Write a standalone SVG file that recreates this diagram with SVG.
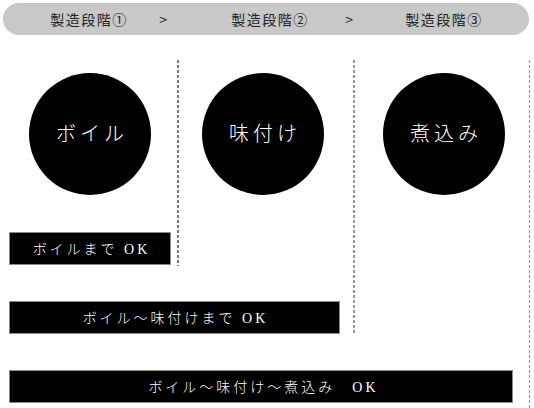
<svg xmlns="http://www.w3.org/2000/svg" width="534" height="408" viewBox="0 0 534 408">
<style>
.head{font-family:"Noto Sans CJK JP","Liberation Sans",sans-serif;font-size:14px;fill:#222;letter-spacing:1.5px;text-anchor:middle}
.circ{fill:#000}
.ct{font-family:"Noto Sans CJK JP","Liberation Serif",serif;font-size:20px;fill:#fff;letter-spacing:4px;text-anchor:middle;font-weight:300}
.bar{fill:#000;stroke:#8a8a8a;stroke-width:1}
.bt{font-family:"Liberation Serif","Noto Sans CJK JP",serif;font-size:14px;fill:#fff;letter-spacing:3px;text-anchor:middle;font-weight:300}
.dash{fill:none;stroke-width:1.2;stroke-dasharray:3 2}
</style>
<rect x="3" y="3" width="526" height="32" rx="16" ry="16" fill="#c8c8c8"/>
<g id="header">
<text class="head" x="89" y="25">製造段階①</text>
<text class="head" x="164" y="25">&gt;</text>
<text class="head" x="270" y="25">製造段階②</text>
<text class="head" x="350" y="25">&gt;</text>
<text class="head" x="444" y="25">製造段階③</text>
</g>
<g id="connectors">
<line class="dash" x1="178" y1="60" x2="178" y2="266" stroke="#222"/>
<line class="dash" x1="354" y1="60" x2="354" y2="334" stroke="#555"/>
<line class="dash" x1="529.5" y1="60" x2="529.5" y2="408" stroke="#999" stroke-width="2" stroke-dasharray="3 1.5"/>
</g>
<g id="node-boil">
<circle class="circ" cx="90" cy="134" r="61"/>
<text class="ct" x="92" y="141">ボイル</text>
</g>
<g id="node-season">
<circle class="circ" cx="263" cy="134" r="61"/>
<text class="ct" x="265" y="141">味付け</text>
</g>
<g id="node-simmer">
<circle class="circ" cx="444" cy="134" r="61"/>
<text class="ct" x="446" y="141">煮込み</text>
</g>
<g id="bar-1">
<rect class="bar" x="9.5" y="232.5" width="161" height="32"/>
<text class="bt" x="91.5" y="254">ボイルまで OK</text>
</g>
<g id="bar-2">
<rect class="bar" x="9.5" y="301.5" width="330" height="32"/>
<text class="bt" x="175.5" y="323">ボイル～味付けまで OK</text>
</g>
<g id="bar-3">
<rect class="bar" x="9.5" y="370.5" width="503" height="32"/>
<text class="bt" x="263.5" y="392">ボイル～味付け～煮込み　OK</text>
</g>
</svg>
